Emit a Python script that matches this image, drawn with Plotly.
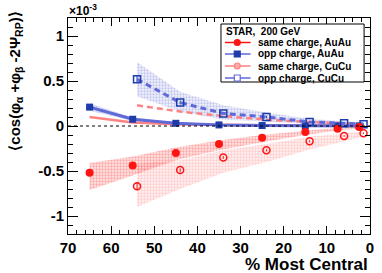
import plotly.graph_objects as go

# ---------------- data (units of 1e-3) ----------------
au_x = [65, 55, 45, 35, 25, 15, 7.5, 2.5]
au_same = [-0.52, -0.44, -0.30, -0.20, -0.13, -0.067, -0.03, -0.012]
au_same_lo = [-0.71, -0.55, -0.38, -0.27, -0.18, -0.10, -0.05, -0.03]
au_same_hi = [-0.41, -0.34, -0.24, -0.16, -0.10, -0.05, -0.02, -0.005]
au_opp = [0.21, 0.075, 0.03, 0.012, 0.005, 0.003, 0.002, 0.001]
au_opp_lo = [0.17, 0.055, 0.02, 0.005, 0.0, -0.003, -0.003, -0.004]
au_opp_hi = [0.25, 0.095, 0.04, 0.02, 0.012, 0.008, 0.006, 0.005]
au_model = [0.10, 0.04, 0.02, 0.01, 0.008, 0.005, 0.003, 0.002]

cu_x = [54, 44, 34, 24, 14, 6, 1.5]
cu_same = [-0.67, -0.49, -0.35, -0.27, -0.17, -0.11, -0.08]
cu_same_lo = [-0.90, -0.70, -0.52, -0.40, -0.26, -0.17, -0.12]
cu_same_hi = [-0.42, -0.38, -0.27, -0.20, -0.12, -0.08, -0.06]
cu_same_err = [0.04, 0.02, 0.015, 0.012, 0.01, 0.008, 0.008]
cu_opp = [0.52, 0.26, 0.14, 0.10, 0.045, 0.03, 0.02]
cu_opp_lo = [0.33, 0.16, 0.07, 0.05, 0.02, 0.01, 0.005]
cu_opp_hi = [0.71, 0.38, 0.23, 0.15, 0.08, 0.05, 0.035]
cu_opp_err = [0.04, 0.02, 0.015, 0.012, 0.01, 0.008, 0.008]
cu_model = [0.23, 0.16, 0.11, 0.07, 0.045, 0.03, 0.02]

x_ticks = [70, 60, 50, 40, 30, 20, 10, 0]
y_ticks = [-1, -0.5, 0, 0.5, 1]
y_tick_text = ["-1", "-0.5", "0", "0.5", "1"]

legend_header = "STAR,\u00a0 200 GeV"
legend_labels = ["same charge, AuAu", "opp charge, AuAu",
                 "same charge, CuCu", "opp charge, CuCu"]

RED = "rgb(255,20,20)"
PINK = "rgb(255,130,130)"
BLUE = "rgb(30,60,170)"
LBLUE = "rgb(95,105,215)"
FONT = "Liberation Sans, Arial, sans-serif"

fig = go.Figure()


def band(xs, lo, hi, fg, bg):
    fig.add_trace(go.Scatter(
        x=list(xs) + list(xs)[::-1], y=list(hi) + list(lo)[::-1],
        fill="toself", mode="lines", line=dict(width=0),
        fillcolor=bg,
        fillpattern=dict(shape=".", fgcolor=fg, bgcolor=bg, size=3, solidity=0.45),
        hoverinfo="skip", showlegend=False))


band(au_x, au_same_lo, au_same_hi, "rgba(255,0,0,0.55)", "rgba(255,0,0,0.10)")
band(cu_x, cu_same_lo, cu_same_hi, "rgba(255,60,60,0.40)", "rgba(255,80,80,0.08)")
band(cu_x, cu_opp_lo, cu_opp_hi, "rgba(60,70,200,0.50)", "rgba(80,90,210,0.08)")
band(au_x, au_opp_lo, au_opp_hi, "rgba(60,70,200,0.45)", "rgba(80,90,210,0.15)")

# zero line
fig.add_shape(type="line", xref="paper", x0=0, x1=1, yref="y", y0=0, y1=0,
              line=dict(color="black", width=1, dash="dot"))

# model lines
fig.add_trace(go.Scatter(x=au_x, y=au_model, mode="lines",
                         line=dict(color=PINK, width=2.5), showlegend=False))
fig.add_trace(go.Scatter(x=cu_x, y=cu_model, mode="lines",
                         line=dict(color=PINK, width=2.5, dash="6px,4px"), showlegend=False))

# data lines + markers
fig.add_trace(go.Scatter(x=au_x, y=au_opp, mode="lines+markers",
                         line=dict(color=LBLUE, width=3),
                         marker=dict(symbol="square", size=7, color=BLUE),
                         showlegend=False))
fig.add_trace(go.Scatter(x=cu_x, y=cu_opp, mode="lines+markers",
                         line=dict(color=LBLUE, width=3, dash="6px,4px"),
                         marker=dict(symbol="square-open", size=7, color=BLUE,
                                     line=dict(width=1.5)),
                         error_y=dict(type="data", array=cu_opp_err, color=BLUE,
                                      thickness=1, width=0),
                         showlegend=False))
fig.add_trace(go.Scatter(x=au_x, y=au_same, mode="markers",
                         marker=dict(symbol="circle", size=8, color=RED),
                         showlegend=False))
fig.add_trace(go.Scatter(x=cu_x, y=cu_same, mode="markers",
                         marker=dict(symbol="circle-open", size=7, color=RED,
                                     line=dict(width=1.5)),
                         error_y=dict(type="data", array=cu_same_err, color=RED,
                                      thickness=1, width=0),
                         showlegend=False))

# ---------------- layout helpers (pixel -> paper) ----------------
L, R, T, B = 68, 374, 18, 234


def px(x):
    return (x - L) / (R - L)


def py(y):
    return (B - y) / (B - T)


# manual legend (ROOT style)
fig.add_shape(type="rect", xref="paper", yref="paper",
              x0=px(223), x1=px(368), y0=py(24), y1=py(82),
              line=dict(color="black", width=1), fillcolor="white", layer="above")
fig.add_annotation(xref="paper", yref="paper", x=px(226), y=py(32),
                   text=legend_header, showarrow=False, xanchor="left", yanchor="middle",
                   font=dict(family=FONT, size=10, color="black", weight="bold"))
entry_y = [42.5, 54, 66, 78]
entry_line = [RED, LBLUE, PINK, LBLUE]
entry_marker = [("circle", RED, RED), ("rect", BLUE, BLUE),
                ("circle", "rgb(255,170,170)", PINK), ("rect", "white", LBLUE)]
for yy, lab, lc, (shp, fc, mc) in zip(entry_y, legend_labels, entry_line, entry_marker):
    fig.add_shape(type="line", xref="paper", yref="paper",
                  x0=px(227), x1=px(253), y0=py(yy), y1=py(yy),
                  line=dict(color=lc, width=1.5), layer="above")
    fig.add_shape(type=shp, xref="paper", yref="paper",
                  x0=px(236.5), x1=px(242.5), y0=py(yy - 3), y1=py(yy + 3),
                  line=dict(color=mc, width=1.2), fillcolor=fc, layer="above")
    fig.add_annotation(xref="paper", yref="paper", x=px(258), y=py(yy),
                       text=lab, showarrow=False, xanchor="left", yanchor="middle",
                       font=dict(family=FONT, size=10, color="black", weight="bold"))

# axis titles / exponent
fig.add_annotation(xref="paper", yref="paper", x=px(14), y=py(81),
                   text="⟨cos(φ<sub>α</sub> +φ<sub>β</sub> -2Ψ<sub>RP</sub>)⟩",
                   textangle=-90, showarrow=False, xanchor="center", yanchor="middle",
                   font=dict(family=FONT, size=15, color="black", weight="bold"))
fig.add_annotation(xref="paper", yref="paper", x=px(67), y=py(10),
                   text="×10<sup>-3</sup>", showarrow=False, xanchor="left", yanchor="middle",
                   font=dict(family=FONT, size=12, color="black", weight="bold"))
fig.add_annotation(xref="paper", yref="paper", x=px(374), y=py(264),
                   text="% Most Central", showarrow=False, xanchor="right", yanchor="middle",
                   font=dict(family=FONT, size=17, color="black", weight="bold"))

axis_common = dict(showgrid=False, zeroline=False, showline=True, linecolor="black",
                   linewidth=1, mirror="allticks", ticks="inside", tickcolor="black",
                   tickfont=dict(family=FONT, size=15, color="black", weight="bold"))
fig.update_layout(
    width=382, height=273,
    margin=dict(l=L, r=382 - R, t=T, b=273 - B),
    paper_bgcolor="white", plot_bgcolor="white",
    showlegend=False,
    xaxis=dict(range=[70, 0], tickvals=x_ticks, ticklen=8,
               minor=dict(dtick=2, ticklen=4, ticks="inside", tickcolor="black", showgrid=False),
               **axis_common),
    yaxis=dict(range=[-1.2, 1.2], tickvals=y_ticks, ticktext=y_tick_text, ticklen=10,
               minor=dict(dtick=0.1, ticklen=5, ticks="inside", tickcolor="black", showgrid=False),
               **axis_common),
)

fig.write_html("out.html", config=dict(displayModeBar=False),
               post_script="document.body.style.margin='0px';document.body.style.overflow='hidden';")
